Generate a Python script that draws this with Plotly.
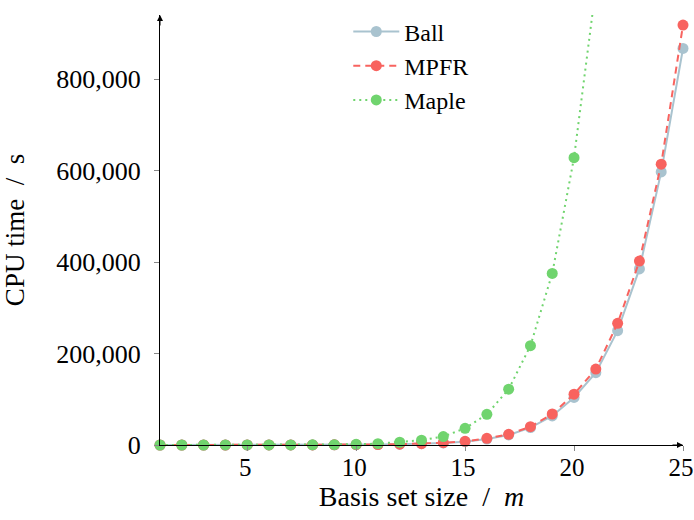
import plotly.graph_objects as go

basis_size = list(range(1, 26))
ball_time = [2, 5, 10, 20, 40, 70, 120, 200, 350, 600, 1000, 1700, 2800, 4600,
             7200, 13000, 22000, 38000, 63500, 104000, 158000, 250000, 385000,
             597000, 867000]
mpfr_time = [2, 5, 10, 20, 40, 70, 120, 200, 360, 620, 1050, 1800, 3000, 5000,
             8000, 14600, 23300, 40000, 67800, 111000, 166000, 266000, 402000,
             614000, 918000]
maple_x = list(range(1, 22))
maple_time = [5, 10, 20, 40, 70, 120, 200, 350, 700, 1500, 3000, 6000, 10500,
              18500, 36500, 67000, 122000, 217000, 375000, 628000, 1000000]

x_ticks = [5, 10, 15, 20, 25]
x_tick_text = ["5", "10", "15", "20", "25"]
y_ticks = [0, 200000, 400000, 600000, 800000]
y_tick_text = ["0", "200,000", "400,000", "600,000", "800,000"]

FONT = "Liberation Serif"
C_BALL = "#a9c3cf"
C_MPFR = "#f8635f"
C_MAPLE = "#70d46e"
NB = "\u00a0"

fig = go.Figure()
fig.add_trace(go.Scatter(x=basis_size, y=ball_time, name="Ball", mode="lines+markers",
                         line=dict(color=C_BALL, width=2),
                         marker=dict(color=C_BALL, size=11), cliponaxis=False))
fig.add_trace(go.Scatter(x=basis_size, y=mpfr_time, name="MPFR", mode="lines+markers",
                         line=dict(color=C_MPFR, width=2, dash="7px,5px"),
                         marker=dict(color=C_MPFR, size=11), cliponaxis=False))
fig.add_trace(go.Scatter(x=maple_x, y=maple_time, name="Maple", mode="lines+markers",
                         line=dict(color=C_MAPLE, width=2, dash="2px,4px"),
                         marker=dict(color=C_MAPLE, size=11), cliponaxis=False))

fig.update_layout(
    width=694, height=520,
    margin=dict(l=160, r=11, t=15, b=75, autoexpand=False),
    paper_bgcolor="white", plot_bgcolor="white",
    font=dict(family=FONT, size=26, color="black"),
    showlegend=True,
    legend=dict(x=0.36, y=1.013, xanchor="left", yanchor="top",
                bgcolor="rgba(0,0,0,0)", itemwidth=46,
                font=dict(family=FONT, size=24)),
    xaxis=dict(range=[1, 25], tickvals=x_ticks, ticktext=x_tick_text,
               showgrid=False, zeroline=False,
               showline=True, linecolor="black", linewidth=1,
               ticks="outside", ticklen=5, tickcolor="#888",
               tickfont=dict(size=25), ticklabelshift=-2,
               ticklabelstandoff=-5, ticklabeloverflow="allow",
               title=dict(text=f"Basis set size{NB}{NB}/{NB}{NB}<i>m</i>", standoff=6,
                          font=dict(size=28))),
    yaxis=dict(range=[0, 940000], tickvals=y_ticks, ticktext=y_tick_text,
               showgrid=False, zeroline=False,
               showline=True, linecolor="black", linewidth=1,
               ticks="outside", ticklen=5, tickcolor="#888",
               ticklabelstandoff=8,
               title=dict(text=f"CPU time{NB}{NB}/{NB}{NB}s", standoff=27,
                          font=dict(size=27))),
)

# axis arrow heads
fig.add_annotation(x=0, y=1.0, xref="paper", yref="paper", ax=0, ay=12,
                   showarrow=True, arrowhead=2, arrowsize=1.2, arrowwidth=1,
                   arrowcolor="black", text="")
fig.add_annotation(x=1.0, y=0, xref="paper", yref="paper", ax=-12, ay=0,
                   showarrow=True, arrowhead=2, arrowsize=1.2, arrowwidth=1,
                   arrowcolor="black", text="")

fig.write_html("out.html",
               config={"displayModeBar": False},
               post_script="document.body.style.margin='0';"
                           "document.body.style.overflow='hidden';")
